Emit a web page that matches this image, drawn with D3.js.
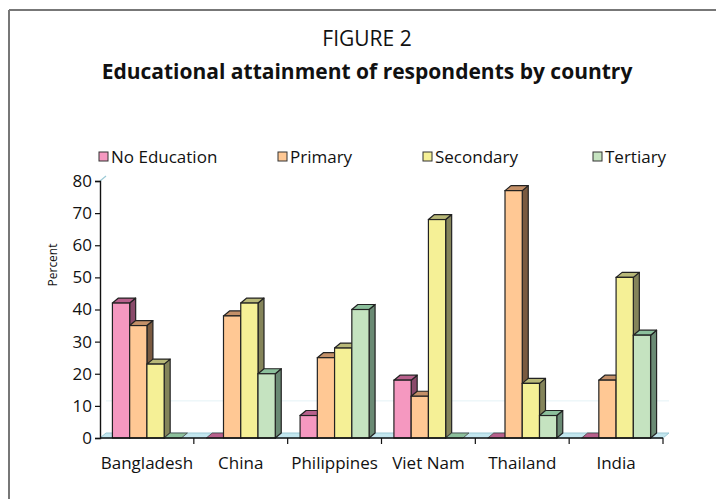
<!DOCTYPE html>
<html>
<head>
<meta charset="utf-8">
<script src="https://cdn.jsdelivr.net/npm/d3@7"></script>
<style>
  body { margin: 0; background: #fff; }
  text { font-family: "Open Sans", "DejaVu Sans", sans-serif; fill: #111; }
</style>
</head>
<body>
<div id="chart"></div>
<script>
var parentId = "chart", parent = "#" + parentId;

// data
var countries = ["Bangladesh", "China", "Philippines", "Viet Nam", "Thailand", "India"];
var series = ["No Education", "Primary", "Secondary", "Tertiary"];
var noEducation = [42, 0, 7, 18, 0, 0];
var primary     = [35, 38, 25, 13, 77, 18];
var secondary   = [23, 42, 28, 68, 17, 50];
var tertiary    = [0, 20, 40, 0, 7, 32];
var yTicks = [0, 10, 20, 30, 40, 50, 60, 70, 80];

var values = [noEducation, primary, secondary, tertiary];

// front / top / side colours per series
var colors = {
  front: ["#f598c0", "#ffc894", "#f5f096", "#c5e3c0"],
  top:   ["#b8608c", "#c49068", "#b8b878", "#8cc09c"],
  side:  ["#8a4a6a", "#7a5a40", "#84845a", "#6a8a74"]
};

var W = 716, H = 499;
var dx = 6, dy = -5;   // 3d depth offset

var svg = d3.select(parent).append("svg")
    .attr("width", W)
    .attr("height", H);

// frame (only top and left edges are in view)
svg.append("line").attr("x1", 9).attr("y1", 10).attr("x2", W).attr("y2", 10)
    .style("stroke", "#777").style("stroke-width", 2);
svg.append("line").attr("x1", 9).attr("y1", 10).attr("x2", 9).attr("y2", H)
    .style("stroke", "#777").style("stroke-width", 2);

/*------------------------------------------*/
/*            Titles                        */
/*------------------------------------------*/
svg.append("text")
    .attr("x", 367).attr("y", 46)
    .attr("text-anchor", "middle")
    .style("font-size", "21px")
    .text("FIGURE 2");

svg.append("text")
    .attr("x", 367).attr("y", 79)
    .attr("text-anchor", "middle")
    .style("font-size", "21px")
    .style("font-weight", "bold")
    .text("Educational attainment of respondents by country");

/*------------------------------------------*/
/*            Legend                        */
/*------------------------------------------*/
var legendX = [99, 278, 423, 593];

var legend = svg.selectAll(".legend")
    .data(series)
    .enter().append("g")
    .attr("class", "legend")
    .attr("transform", function(d, i) { return "translate(" + legendX[i] + ",157)"; });

legend.append("rect")
    .attr("x", 0).attr("y", -5)
    .attr("width", 9).attr("height", 9)
    .style("fill", function(d, i) { return colors.front[i]; })
    .style("stroke", "#333")
    .style("stroke-width", 1);

legend.append("text")
    .attr("x", 12).attr("y", 6)
    .style("font-size", "17px")
    .text(function(d) { return d; });

/*------------------------------------------*/
/*            Scales                        */
/*------------------------------------------*/
var x = d3.scaleBand().domain(countries).range([100, 663]).paddingInner(0).paddingOuter(0);
var xInner = d3.scaleBand().domain(series).range([0, x.bandwidth()]).paddingInner(0).paddingOuter(0.72);
var y = d3.scaleLinear().domain([0, 80]).range([438, 181]);

var y0 = y(0);

// floor
svg.append("polygon")
    .attr("points", [[100, y0], [100 + dx, y0 + dy], [663 + dx, y0 + dy], [663, y0]].join(" "))
    .style("fill", "#c2e6ee")
    .style("stroke", "#9cc8d4")
    .style("stroke-width", 1);

// faint back gridline
svg.append("line")
    .attr("x1", 100 + dx).attr("x2", 663 + dx)
    .attr("y1", y(10) + dy).attr("y2", y(10) + dy)
    .style("stroke", "#e4f2f6").style("stroke-width", 1);

// left wall top edge
svg.append("line")
    .attr("x1", 100).attr("y1", y(80))
    .attr("x2", 100 + dx).attr("y2", y(80) + dy)
    .style("stroke", "#9ccad6").style("stroke-width", 1.2);

/*------------------------------------------*/
/*            Bars                          */
/*------------------------------------------*/
var bars = [];
countries.forEach(function(c, ci) {
  series.forEach(function(s, si) {
    bars.push({country: c, series: s, si: si, value: values[si][ci]});
  });
});

var w = xInner.bandwidth();

var bar = svg.selectAll(".bar")
    .data(bars)
    .enter().append("g")
    .attr("class", "bar");

bar.each(function(d) {
  var g = d3.select(this);
  var bx = x(d.country) + xInner(d.series),
      by = y(d.value);

  // side face
  if (d.value > 0) {
    g.append("polygon")
        .attr("points", [[bx + w, by], [bx + w + dx, by + dy], [bx + w + dx, y0 + dy], [bx + w, y0]].join(" "))
        .style("fill", colors.side[d.si])
        .style("stroke", "#222").style("stroke-width", 1.2)
        .style("stroke-linejoin", "round");
  }
  // top face
  g.append("polygon")
      .attr("points", [[bx, by], [bx + dx, by + dy], [bx + w + dx, by + dy], [bx + w, by]].join(" "))
      .style("fill", colors.top[d.si])
      .style("stroke", d.value > 0 ? "#222" : "#444").style("stroke-width", d.value > 0 ? 1.2 : 0.8)
      .style("stroke-linejoin", "round");
  // front face
  if (d.value > 0) {
    g.append("rect")
        .attr("x", bx).attr("y", by)
        .attr("width", w).attr("height", y0 - by)
        .style("fill", colors.front[d.si])
        .style("stroke", "#222").style("stroke-width", 1.2);
  }
});

/*------------------------------------------*/
/*            Axes                          */
/*------------------------------------------*/
var yAxis = svg.append("g")
    .attr("transform", "translate(100,0)")
    .call(d3.axisLeft(y).tickValues(yTicks).tickSize(5).tickPadding(3));

yAxis.select(".domain").style("stroke", "#111").style("stroke-width", 1.4);
yAxis.selectAll(".tick line").style("stroke", "#111").style("stroke-width", 1.2);
yAxis.selectAll(".tick text")
    .style("font-family", "\"Open Sans\", sans-serif")
    .style("font-size", "17px")
    .style("fill", "#111");

var xAxis = svg.append("g")
    .attr("transform", "translate(0," + y0 + ")");

xAxis.append("line")
    .attr("x1", 100).attr("x2", 663)
    .attr("y1", 0).attr("y2", 0)
    .style("stroke", "#111").style("stroke-width", 1.4);

xAxis.selectAll(".xtick")
    .data(countries)
    .enter().append("line")
    .attr("x1", function(d) { return x(d) + x.bandwidth(); })
    .attr("x2", function(d) { return x(d) + x.bandwidth(); })
    .attr("y1", 0).attr("y2", 6)
    .style("stroke", "#111").style("stroke-width", 1.2);

xAxis.selectAll(".xlabel")
    .data(countries)
    .enter().append("text")
    .attr("x", function(d) { return x(d) + x.bandwidth() / 2; })
    .attr("y", 31)
    .attr("text-anchor", "middle")
    .style("font-size", "17px")
    .text(function(d) { return d; });

svg.append("text")
    .attr("transform", "translate(57,265) rotate(-90)")
    .attr("text-anchor", "middle")
    .style("font-size", "12px")
    .text("Percent");
</script>
</body>
</html>
